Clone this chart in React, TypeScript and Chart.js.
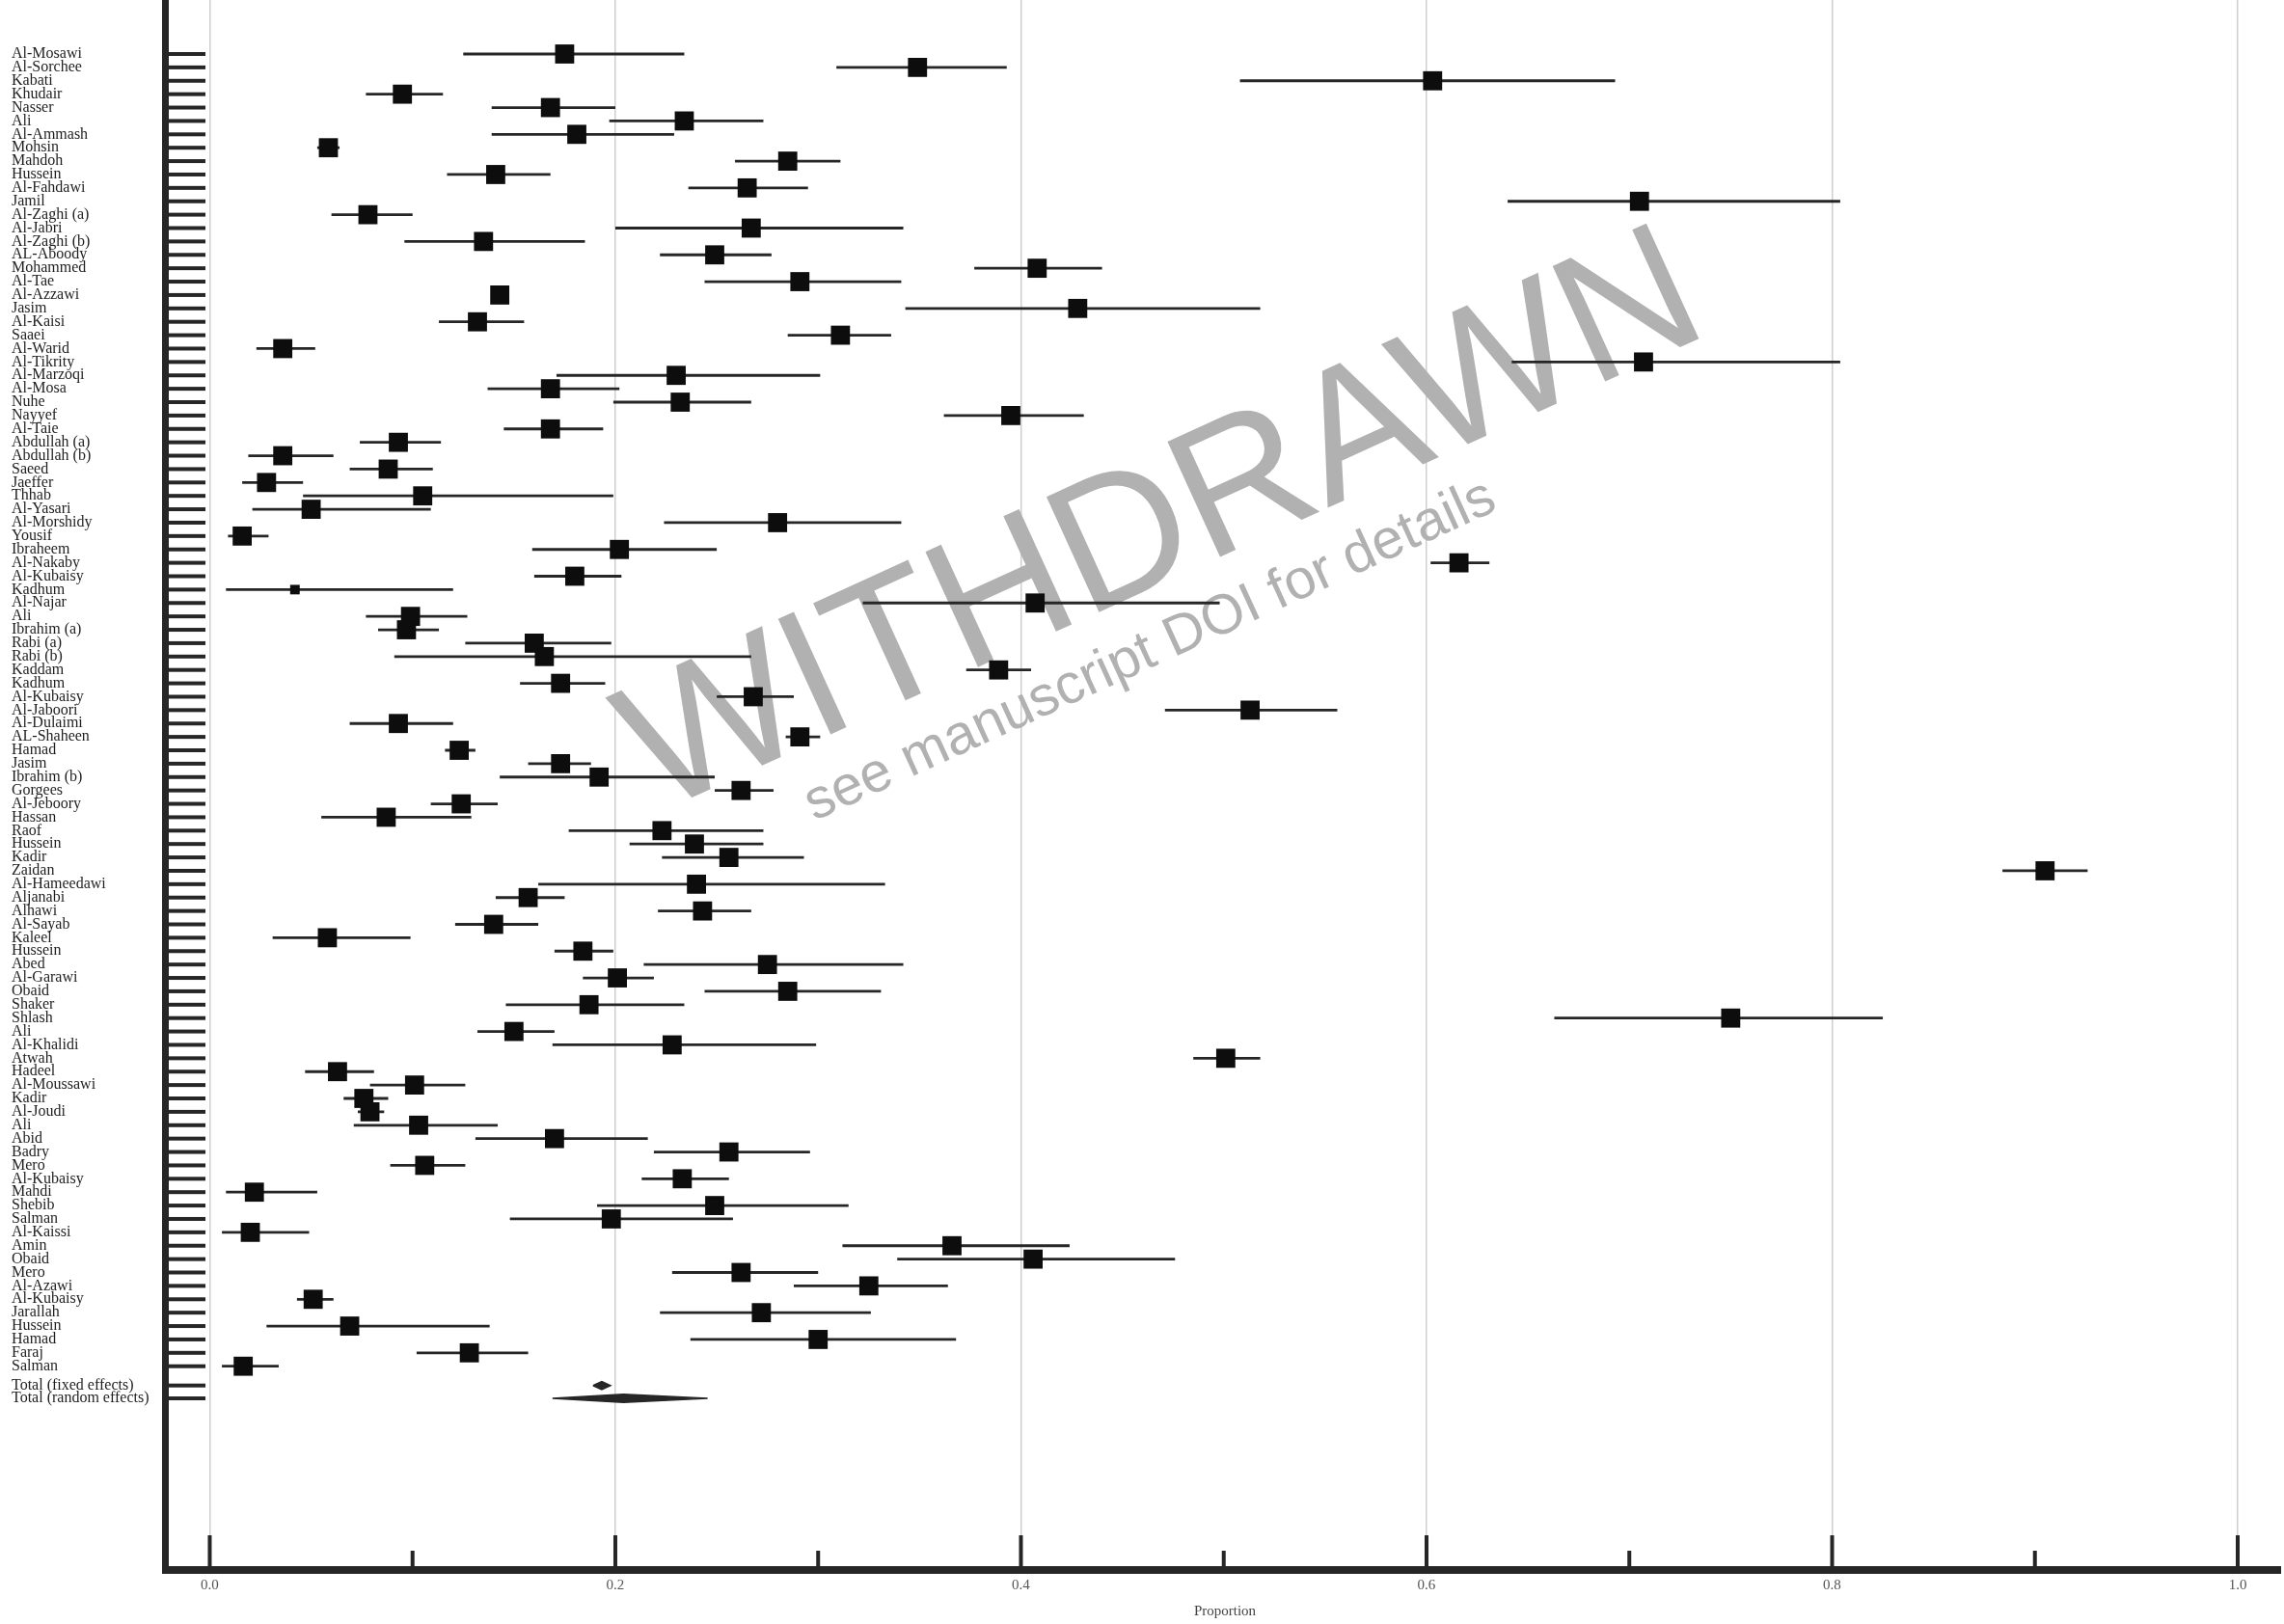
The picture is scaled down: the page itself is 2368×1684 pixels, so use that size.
import React, { useEffect, useRef } from 'react';
import { Chart, registerables } from 'chart.js';

Chart.register(...registerables);

const studies = [
  'Al-Mosawi', 'Al-Sorchee', 'Kabati', 'Khudair', 'Nasser', 'Ali', 'Al-Ammash', 'Mohsin', 'Mahdoh', 'Hussein',
  'Al-Fahdawi', 'Jamil', 'Al-Zaghi (a)', 'Al-Jabri', 'Al-Zaghi (b)', 'AL-Aboody', 'Mohammed', 'Al-Tae', 'Al-Azzawi', 'Jasim',
  'Al-Kaisi', 'Saaei', 'Al-Warid', 'Al-Tikrity', 'Al-Marzoqi', 'Al-Mosa', 'Nuhe', 'Nayyef', 'Al-Taie', 'Abdullah (a)',
  'Abdullah (b)', 'Saeed', 'Jaeffer', 'Thhab', 'Al-Yasari', 'Al-Morshidy', 'Yousif', 'Ibraheem', 'Al-Nakaby', 'Al-Kubaisy',
  'Kadhum', 'Al-Najar', 'Ali', 'Ibrahim (a)', 'Rabi (a)', 'Rabi (b)', 'Kaddam', 'Kadhum', 'Al-Kubaisy', 'Al-Jaboori',
  'Al-Dulaimi', 'AL-Shaheen', 'Hamad', 'Jasim', 'Ibrahim (b)', 'Gorgees', 'Al-Jeboory', 'Hassan', 'Raof', 'Hussein',
  'Kadir', 'Zaidan', 'Al-Hameedawi', 'Aljanabi', 'Alhawi', 'Al-Sayab', 'Kaleel', 'Hussein', 'Abed', 'Al-Garawi',
  'Obaid', 'Shaker', 'Shlash', 'Ali', 'Al-Khalidi', 'Atwah', 'Hadeel', 'Al-Moussawi', 'Kadir', 'Al-Joudi',
  'Ali', 'Abid', 'Badry', 'Mero', 'Al-Kubaisy', 'Mahdi', 'Shebib', 'Salman', 'Al-Kaissi', 'Amin',
  'Obaid', 'Mero', 'Al-Azawi', 'Al-Kubaisy', 'Jarallah', 'Hussein', 'Hamad', 'Faraj', 'Salman',
];

const estimates = [
  0.175, 0.349, 0.603, 0.095, 0.168, 0.234, 0.181, 0.0585, 0.285, 0.141,
  0.265, 0.705, 0.078, 0.267, 0.135, 0.249, 0.408, 0.291, 0.143, 0.428,
  0.132, 0.311, 0.036, 0.707, 0.230, 0.168, 0.232, 0.395, 0.168, 0.093,
  0.036, 0.088, 0.028, 0.105, 0.050, 0.280, 0.016, 0.202, 0.616, 0.180,
  0.042, 0.407, 0.099, 0.097, 0.160, 0.165, 0.389, 0.173, 0.268, 0.513,
  0.093, 0.291, 0.123, 0.173, 0.192, 0.262, 0.124, 0.087, 0.223, 0.239,
  0.256, 0.905, 0.240, 0.157, 0.243, 0.140, 0.058, 0.184, 0.275, 0.201,
  0.285, 0.187, 0.750, 0.150, 0.228, 0.501, 0.063, 0.101, 0.076, 0.079,
  0.103, 0.170, 0.256, 0.106, 0.233, 0.022, 0.249, 0.198, 0.020, 0.366,
  0.406, 0.262, 0.325, 0.051, 0.272, 0.069, 0.300, 0.128, 0.0165,
];

const lowerCI = [
  0.125, 0.309, 0.508, 0.077, 0.139, 0.197, 0.139, 0.053, 0.259, 0.117,
  0.236, 0.640, 0.060, 0.200, 0.096, 0.222, 0.377, 0.244, 0.139, 0.343,
  0.113, 0.285, 0.023, 0.642, 0.171, 0.137, 0.199, 0.362, 0.145, 0.074,
  0.019, 0.069, 0.016, 0.046, 0.021, 0.224, 0.009, 0.159, 0.602, 0.160,
  0.008, 0.322, 0.077, 0.083, 0.126, 0.091, 0.373, 0.153, 0.250, 0.471,
  0.069, 0.284, 0.116, 0.157, 0.143, 0.249, 0.109, 0.055, 0.177, 0.207,
  0.223, 0.884, 0.162, 0.141, 0.221, 0.121, 0.031, 0.170, 0.214, 0.184,
  0.244, 0.146, 0.663, 0.132, 0.169, 0.485, 0.047, 0.079, 0.066, 0.073,
  0.071, 0.131, 0.219, 0.089, 0.213, 0.008, 0.191, 0.148, 0.006, 0.312,
  0.339, 0.228, 0.288, 0.043, 0.222, 0.028, 0.237, 0.102, 0.006,
];

const upperCI = [
  0.234, 0.393, 0.693, 0.115, 0.200, 0.273, 0.229, 0.064, 0.311, 0.168,
  0.295, 0.804, 0.100, 0.342, 0.185, 0.277, 0.440, 0.341, 0.147, 0.518,
  0.155, 0.336, 0.052, 0.804, 0.301, 0.202, 0.267, 0.431, 0.194, 0.114,
  0.061, 0.110, 0.046, 0.199, 0.109, 0.341, 0.029, 0.250, 0.631, 0.203,
  0.120, 0.498, 0.127, 0.113, 0.198, 0.267, 0.405, 0.195, 0.288, 0.556,
  0.120, 0.301, 0.131, 0.188, 0.249, 0.278, 0.142, 0.129, 0.273, 0.273,
  0.293, 0.926, 0.333, 0.175, 0.267, 0.162, 0.099, 0.199, 0.342, 0.219,
  0.331, 0.234, 0.825, 0.170, 0.299, 0.518, 0.081, 0.126, 0.088, 0.086,
  0.142, 0.216, 0.296, 0.126, 0.256, 0.053, 0.315, 0.258, 0.049, 0.424,
  0.476, 0.300, 0.364, 0.061, 0.326, 0.138, 0.368, 0.157, 0.034,
];

const totalLabels = ['Total (fixed effects)', 'Total (random effects)'];
const totalEstimates = [0.1933, 0.204];
const totalLower = [0.189, 0.169];
const totalUpper = [0.1976, 0.2455];

const xTickValues = [0, 0.1, 0.2, 0.3, 0.4, 0.5, 0.6, 0.7, 0.8, 0.9, 1.0];
const xTickLabels = ['0.0', '', '0.2', '', '0.4', '', '0.6', '', '0.8', '', '1.0'];
const xAxisTitle = 'Proportion';
const watermarkMain = 'WITHDRAWN';
const watermarkSub = 'see manuscript DOI for details';

// layout (row units / pixels)
const TOTAL_OFFSET = 0.44;
const TOTAL_STEP = 0.96;
const SHIFT = 20;

const studyRows = studies.map((_, i) => i);
const totalRows = totalLabels.map((_, k) => studies.length + TOTAL_OFFSET + k * TOTAL_STEP);
const allRows = [...studyRows, ...totalRows];
const allLabels = [...studies, ...totalLabels];

const INK = '#262626';

const watermarkPlugin = {
  id: 'watermark',
  beforeDatasetsDraw(chart: any) {
    const { ctx } = chart;
    const ang = (-24.5 * Math.PI) / 180;
    ctx.save();
    ctx.fillStyle = '#b1b1b1';
    ctx.textAlign = 'center';
    ctx.textBaseline = 'alphabetic';
    ctx.save();
    ctx.translate(1200, 532 + SHIFT);
    ctx.rotate(ang);
    ctx.font = '191px "Liberation Sans", Arial, sans-serif';
    ctx.fillText(watermarkMain, 0, (0.716 * 191) / 2);
    ctx.restore();
    ctx.save();
    ctx.translate(1193, 676 + SHIFT);
    ctx.rotate(ang);
    ctx.font = '58px "Liberation Sans", Arial, sans-serif';
    ctx.fillText(watermarkSub, 0, (0.52 * 58) / 2);
    ctx.restore();
    ctx.restore();
  },
};

const axesPlugin = {
  id: 'forestAxes',
  afterDraw(chart: any) {
    const { ctx, chartArea: ca, scales } = chart;
    const x = scales.x;
    const y = scales.y;
    ctx.save();
    ctx.fillStyle = INK;
    ctx.fillRect(ca.left - 7, ca.top, 7, ca.bottom - ca.top + 8);
    ctx.fillRect(ca.left - 7, ca.bottom, ca.right - ca.left + 7, 8);
    allRows.forEach((r) => {
      const py = y.getPixelForValue(r);
      ctx.fillRect(ca.left, py - 2, 38, 4);
    });
    xTickValues.forEach((v, i) => {
      const px = x.getPixelForValue(v);
      const len = xTickLabels[i] ? 32 : 16;
      ctx.fillRect(px - 2, ca.bottom - len, 4, len);
    });
    ctx.restore();
  },
};

export default function App() {
  const ref = useRef<HTMLCanvasElement>(null);
  useEffect(() => {
    const ciData: any[] = [];
    studies.forEach((_, i) => {
      ciData.push({ x: lowerCI[i], y: studyRows[i] });
      ciData.push({ x: upperCI[i], y: studyRows[i] });
      ciData.push({ x: null, y: null });
    });
    const pointData = studies.map((_, i) => ({ x: estimates[i], y: studyRows[i] }));
    const diamond = (k: number) => {
      const r = totalRows[k];
      const h = 0.3;
      return [
        { x: totalLower[k], y: r },
        { x: totalEstimates[k], y: r - h },
        { x: totalUpper[k], y: r },
        { x: totalEstimates[k], y: r + h },
        { x: totalLower[k], y: r },
      ];
    };
    const diamondDs = (k: number) => ({
      type: 'line',
      data: diamond(k),
      borderColor: INK,
      backgroundColor: INK,
      borderWidth: 1.5,
      pointRadius: 0,
      fill: 'shape',
      tension: 0,
      order: 1,
    });

    const chart = new Chart(ref.current as HTMLCanvasElement, {
      type: 'scatter',
      data: {
        datasets: [
          {
            type: 'scatter',
            data: pointData,
            pointStyle: 'rect',
            pointRadius: (c: any) => (c.dataIndex === 40 ? 7 : 14),
            backgroundColor: '#0d0d0d',
            borderWidth: 0,
            order: 0,
          } as any,
          {
            type: 'line',
            data: ciData,
            borderColor: INK,
            borderWidth: 2.8,
            pointRadius: 0,
            fill: false,
            spanGaps: false,
            tension: 0,
            order: 2,
          } as any,
          diamondDs(0) as any,
          diamondDs(1) as any,
        ],
      },
      options: {
        animation: false,
        responsive: false,
        devicePixelRatio: 1,
        events: [],
        layout: { autoPadding: false, padding: { top: SHIFT, left: 12, right: 3, bottom: 0 } },
        plugins: {
          legend: { display: false },
          tooltip: { enabled: false },
          title: { display: false },
        },
        scales: {
          x: {
            type: 'linear',
            position: 'bottom',
            min: -0.0202,
            max: 1.0214,
            bounds: 'data',
            afterBuildTicks: (s: any) => {
              s.ticks = xTickValues.map((v) => ({ value: v }));
            },
            afterFit: (s: any) => {
              s.height = 60;
              s.paddingLeft = 0;
              s.paddingRight = 0;
            },
            grid: {
              display: true,
              drawTicks: false,
              lineWidth: 1.5,
              color: (c: any) => {
                const i = xTickValues.indexOf(c.tick ? c.tick.value : -1);
                return i >= 0 && xTickLabels[i] ? '#cfcfcf' : 'rgba(0,0,0,0)';
              },
            },
            border: { display: false },
            ticks: {
              autoSkip: false,
              maxRotation: 0,
              padding: 11,
              color: '#555',
              font: { family: '"Liberation Serif", "Times New Roman", serif', size: 15 },
              callback: (_v: any, i: number) => xTickLabels[i],
            },
            title: {
              display: true,
              text: xAxisTitle,
              color: '#444',
              padding: { top: 0, bottom: 4 },
              font: { family: '"Liberation Serif", "Times New Roman", serif', size: 15 },
            },
          },
          y: {
            type: 'linear',
            position: 'left',
            reverse: true,
            min: -4.033,
            max: 112.93,
            bounds: 'data',
            afterBuildTicks: (s: any) => {
              s.ticks = allRows.map((v) => ({ value: v }));
            },
            afterFit: (s: any) => {
              s.width = 163;
              s.paddingTop = 0;
              s.paddingBottom = 0;
            },
            grid: { display: false, drawTicks: false },
            border: { display: false },
            ticks: {
              autoSkip: false,
              crossAlign: 'far',
              padding: 0,
              color: '#1e1e1e',
              font: { family: '"Liberation Serif", "Times New Roman", serif', size: 16 },
              callback: (_v: any, i: number) => allLabels[i],
            },
          },
        },
      } as any,
      plugins: [watermarkPlugin, axesPlugin],
    } as any);
    return () => chart.destroy();
  }, []);

  return (
    <div
      style={{
        position: 'fixed',
        left: 0,
        top: -SHIFT,
        width: 2368,
        height: 1684 + SHIFT,
        background: '#fff',
      }}
    >
      <canvas ref={ref} width={2368} height={1684 + SHIFT} style={{ display: 'block', width: 2368, height: 1684 + SHIFT }} />
    </div>
  );
}
